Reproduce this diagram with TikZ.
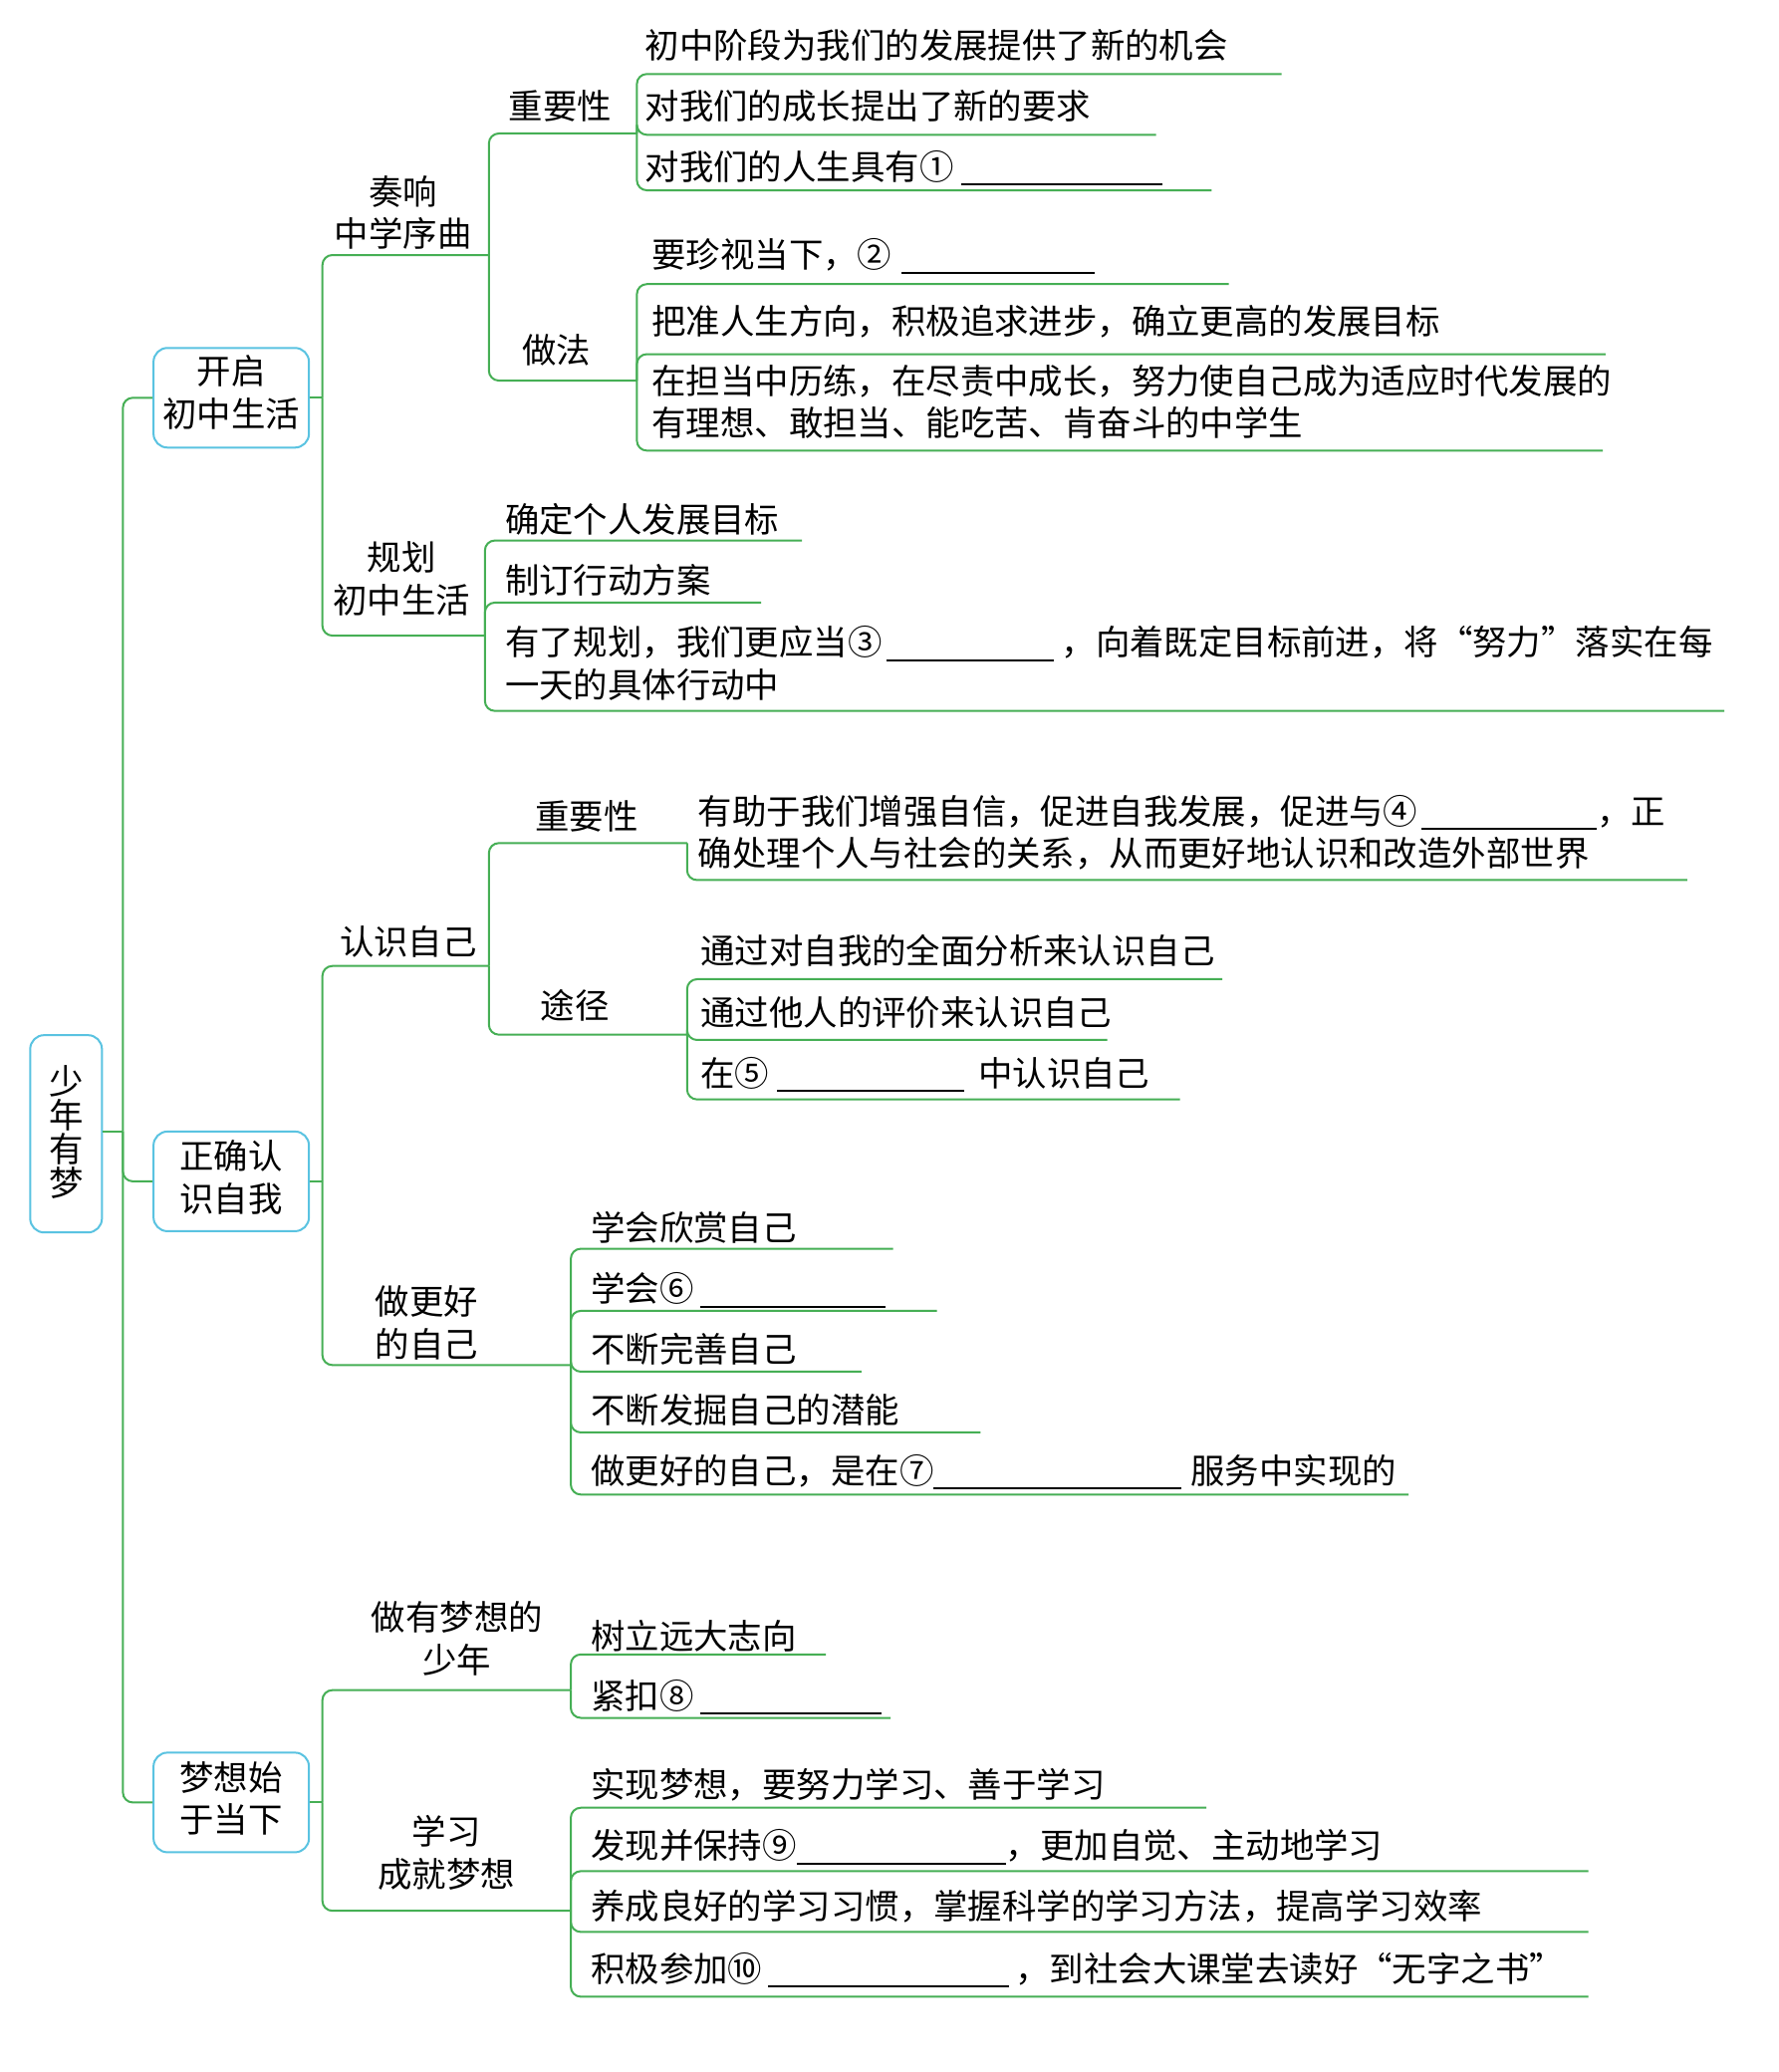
\documentclass[tikz,border=0pt]{standalone}
\usepackage{fontspec}
\setmainfont{Noto Sans CJK SC}
\definecolor{lgreen}{RGB}{70,175,85}
\definecolor{lblue}{RGB}{90,195,225}
\newcommand\blk[1]{\smash{\rule[-3pt]{#1}{0.9pt}}}
\begin{document}
\begin{tikzpicture}[x=0.6631pt,y=-0.6631pt,
  every node/.style={font=\fontsize{17.2pt}{21.2pt}\selectfont, inner sep=0pt},
  br/.style={draw=lgreen, line width=1pt, rounded corners=5pt},
  box/.style={draw=lblue, line width=1pt, rounded corners=7pt, fill=white,
              minimum width=78pt, minimum height=50pt},
  lbl/.style={align=center},
  leaf/.style={anchor=west, align=left}]
\path[use as bounding box, fill=white] (0,0) rectangle (1346,1568);

% root and trunk
\node[box, minimum width=36pt, minimum height=99pt] (root) at (50,858) {};
\node[lbl, font=\fontsize{17.2pt}{17pt}\selectfont] (roott) at (50,857) {少\\年\\有\\梦};
\node[box] (A) at (175,301) {};
\node[lbl] (At) at (175,297) {开启\\初中生活};
\node[box] (B) at (175,894) {};
\node[lbl] (Bt) at (175,891) {正确认\\识自我};
\node[box] (C) at (175,1364) {};
\node[lbl] (Ct) at (175,1361) {梦想始\\于当下};
\coordinate (T) at (93,856);
\draw[br] (root.east |- T) -- (T);
\draw[br] (T) |- (A.west);
\draw[br] (T) |- (B.west);
\draw[br] (T) |- (C.west);

% ===== Group A =====
\coordinate (Aj) at (244,301);
\draw[br] (A.east) -- (Aj);
\coordinate (A1) at (370,193);
\coordinate (A2) at (367,481);
\draw[br] (Aj) |- (A1);
\draw[br] (Aj) |- (A2);
\node[lbl] (A1t) at (305,161) {奏响\\中学序曲};
\node[lbl] (A2t) at (304,438) {规划\\初中生活};

\coordinate (A11) at (482,101);
\coordinate (A12) at (482,288);
\draw[br] (A1) |- (A11);
\draw[br] (A1) |- (A12);
\node[lbl] (A11t) at (424,80) {重要性};
\node[lbl] (A12t) at (421,265) {做法};

\coordinate (A111) at (970,56);
\coordinate (A112) at (875,102);
\coordinate (A113) at (917,144);
\draw[br] (A11) |- (A111);
\draw[br] (A11) |- (A112);
\draw[br] (A11) |- (A113);
\node[leaf] (A111t) at (488,34) {初中阶段为我们的发展提供了新的机会};
\node[leaf] (A112t) at (488,80) {对我们的成长提出了新的要求};
\node[leaf] (A113t) at (488,126) {对我们的人生具有①\hspace{4pt}\blk{101pt}};

\coordinate (A121) at (930,215);
\coordinate (A122) at (1215,268);
\coordinate (A123) at (1213,341);
\draw[br] (A12) |- (A121);
\draw[br] (A12) |- (A122);
\draw[br] (A12) |- (A123);
\node[leaf] (A121t) at (493,193) {要珍视当下，②\hspace{5pt}\blk{97pt}};
\node[leaf] (A122t) at (493,243) {把准人生方向，积极追求进步，确立更高的发展目标};
\node[leaf] (A123t) at (493,304) {在担当中历练，在尽责中成长，努力使自己成为适应时代发展的\\有理想、敢担当、能吃苦、肯奋斗的中学生};

\coordinate (A21) at (607,409);
\coordinate (A22) at (576,456);
\coordinate (A23) at (1305,538);
\draw[br] (A2) |- (A21);
\draw[br] (A2) |- (A22);
\draw[br] (A2) |- (A23);
\node[leaf] (A21t) at (382,393) {确定个人发展目标};
\node[leaf] (A22t) at (382,439) {制订行动方案};
\node[leaf] (A23t) at (382,502) {有了规划，我们更应当③\hspace{2pt}\blk{84pt}\hspace{4pt}，向着既定目标前进，将“努力”落实在每\\一天的具体行动中};

% ===== Group B =====
\coordinate (Bj) at (244,894);
\draw[br] (B.east) -- (Bj);
\coordinate (B1) at (370,731);
\coordinate (B2) at (432,1033);
\draw[br] (Bj) |- (B1);
\draw[br] (Bj) |- (B2);
\node[lbl] (B1t) at (309,713) {认识自己};
\node[lbl] (B2t) at (323,1001) {做更好\\的自己};

\coordinate (B11) at (520,638);
\coordinate (B12) at (520,783);
\draw[br] (B1) |- (B11);
\draw[br] (B1) |- (B12);
\node[lbl] (B11t) at (444,618) {重要性};
\node[lbl] (B12t) at (435,761) {途径};

\coordinate (B111) at (1277,666);
\draw[br] (B11) |- (B111);
\node[leaf] (B111t) at (528,630) {有助于我们增强自信，促进自我发展，促进与④\hspace{2pt}\blk{88pt}，正\\确处理个人与社会的关系，从而更好地认识和改造外部世界};

\coordinate (B121) at (925,741);
\coordinate (B122) at (838,787);
\coordinate (B123) at (893,832);
\draw[br] (B12) |- (B121);
\draw[br] (B12) |- (B122);
\draw[br] (B12) |- (B123);
\node[leaf] (B121t) at (530,719) {通过对自我的全面分析来认识自己};
\node[leaf] (B122t) at (530,766) {通过他人的评价来认识自己};
\node[leaf] (B123t) at (530,812) {在⑤\hspace{4pt}\blk{94pt}\hspace{7pt}中认识自己};

\coordinate (B21) at (676,945);
\coordinate (B22) at (709,992);
\coordinate (B23) at (652,1038);
\coordinate (B24) at (742,1084);
\coordinate (B25) at (1066,1131);
\draw[br] (B2) |- (B21);
\draw[br] (B2) |- (B22);
\draw[br] (B2) |- (B23);
\draw[br] (B2) |- (B24);
\draw[br] (B2) |- (B25);
\node[leaf] (B21t) at (447,929) {学会欣赏自己};
\node[leaf] (B22t) at (447,975) {学会⑥\hspace{3pt}\blk{93pt}};
\node[leaf] (B23t) at (447,1021) {不断完善自己};
\node[leaf] (B24t) at (447,1067) {不断发掘自己的潜能};
\node[leaf] (B25t) at (447,1113) {做更好的自己，是在⑦\blk{124pt}\hspace{5pt}服务中实现的};

% ===== Group C =====
\coordinate (Cj) at (244,1364);
\draw[br] (C.east) -- (Cj);
\coordinate (C1) at (432,1279);
\coordinate (C2) at (432,1446);
\draw[br] (Cj) |- (C1);
\draw[br] (Cj) |- (C2);
\node[lbl] (C1t) at (346,1240) {做有梦想的\\少年};
\node[lbl] (C2t) at (338,1402) {学习\\成就梦想};

\coordinate (C11) at (625,1252);
\coordinate (C12) at (674,1300);
\draw[br] (C1) |- (C11);
\draw[br] (C1) |- (C12);
\node[leaf] (C11t) at (447,1238) {树立远大志向};
\node[leaf] (C12t) at (447,1283) {紧扣⑧\hspace{3pt}\blk{91pt}};

\coordinate (C21) at (913,1368);
\coordinate (C22) at (1202,1416);
\coordinate (C23) at (1202,1462);
\coordinate (C24) at (1202,1511);
\draw[br] (C2) |- (C21);
\draw[br] (C2) |- (C22);
\draw[br] (C2) |- (C23);
\draw[br] (C2) |- (C24);
\node[leaf] (C21t) at (447,1351) {实现梦想，要努力学习、善于学习};
\node[leaf] (C22t) at (447,1397) {发现并保持⑨\blk{105pt}，更加自觉、主动地学习};
\node[leaf] (C23t) at (447,1443) {养成良好的学习习惯，掌握科学的学习方法，提高学习效率};
\node[leaf] (C24t) at (447,1490) {积极参加⑩\hspace{3pt}\blk{121pt}\hspace{3pt}，到社会大课堂去读好“无字之书”};
\end{tikzpicture}
\end{document}
